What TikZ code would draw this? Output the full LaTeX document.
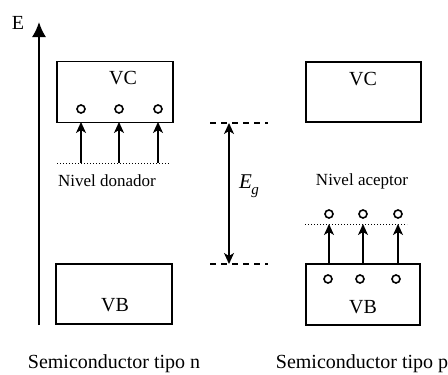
\documentclass[tikz,border=0pt]{standalone}
\usepackage{fontspec}
\setmainfont{Liberation Serif}
\usetikzlibrary{arrows.meta}
\begin{document}
\begin{tikzpicture}[x=1pt,y=-1pt,
  band/.style={draw,line width=1.8pt},
  carrier/.style={draw,circle,line width=1.6pt,inner sep=0pt,minimum size=8pt},
  jump/.style={line width=1.6pt,-{Stealth[length=11pt,width=10pt,inset=3pt]}},
  level/.style={dotted,line width=1pt},
  gapline/.style={line width=1.4pt,dash pattern=on 6pt off 5pt},
  lbl/.style={inner sep=0pt,font=\fontsize{17}{19}\selectfont},
  big/.style={inner sep=0pt,font=\fontsize{20}{22}\selectfont}]
\useasboundingbox (0,0) rectangle (448,375);
% energy axis
\coordinate (axb) at (39,325);
\coordinate (axt) at (39,22);
\draw[line width=1.8pt,-{Latex[length=15pt,width=14pt]}] (axb) -- (axt);
\node[big] (E) at (18,23) {E};
% n-type
\node[band,minimum width=116pt,minimum height=61pt,inner sep=0pt] (vcn) at (115,92) {};
\node[big] (vcnt) at (123,78) {VC};
\node[band,minimum width=116pt,minimum height=60pt,inner sep=0pt] (vbn) at (114,294) {};
\node[big] (vbnt) at (115,305) {VB};
\foreach \i/\x in {1/81,2/119,3/158}{
  \node[carrier] (dn\i) at (\x,109) {};
  \coordinate (dl\i) at (\x,163);
  \coordinate (dt\i) at (\x,122);
  \draw[jump] (dl\i) -- (dt\i);
}
\coordinate (dla) at (57,163);
\coordinate (dlb) at (170,163);
\draw[level] (dla) -- (dlb);
\node[lbl] (don) at (107,181) {Nivel donador};
\node[big] (sn) at (114,364) {Semiconductor tipo n};
% gap
\coordinate (g1a) at (210,123); \coordinate (g1b) at (268,123);
\coordinate (g2a) at (210,264); \coordinate (g2b) at (268,264);
\draw[gapline] (g1a) -- (g1b);
\draw[gapline] (g2a) -- (g2b);
\coordinate (ga) at (229,123); \coordinate (gb) at (229,264);
\draw[line width=1.6pt,{Stealth[length=11pt,width=10pt,inset=3pt]}-{Stealth[length=11pt,width=10pt,inset=3pt]}] (ga) -- (gb);
\node[inner sep=0pt,font=\fontsize{21}{23}\selectfont\itshape] (eg) at (249,186) {E\kern-0.5pt\raisebox{-0.3em}{\fontsize{15}{16}\selectfont g}};
% p-type
\node[band,minimum width=115pt,minimum height=60pt,inner sep=0pt] (vcp) at (363.5,92) {};
\node[big] (vcpt) at (363,79) {VC};
\node[band,minimum width=114pt,minimum height=61pt,inner sep=0pt] (vbp) at (363,294.5) {};
\node[big] (vbpt) at (363,307) {VB};
\node[lbl] (acp) at (362,181) {Nivel aceptor};
\coordinate (ala) at (305,224);
\coordinate (alb) at (407,224);
\draw[level] (ala) -- (alb);
\foreach \i/\x/\y in {1/329/328,2/363/360,3/398/396}{
  \node[carrier] (ap\i) at (\x,214) {};
  \node[carrier] (hp\i) at (\y,279) {};
  \coordinate (ab\i) at (\x,264);
  \coordinate (at\i) at (\x,224);
  \draw[jump] (ab\i) -- (at\i);
}
\node[big] (sp) at (362,364) {Semiconductor tipo p};
\end{tikzpicture}
\end{document}
